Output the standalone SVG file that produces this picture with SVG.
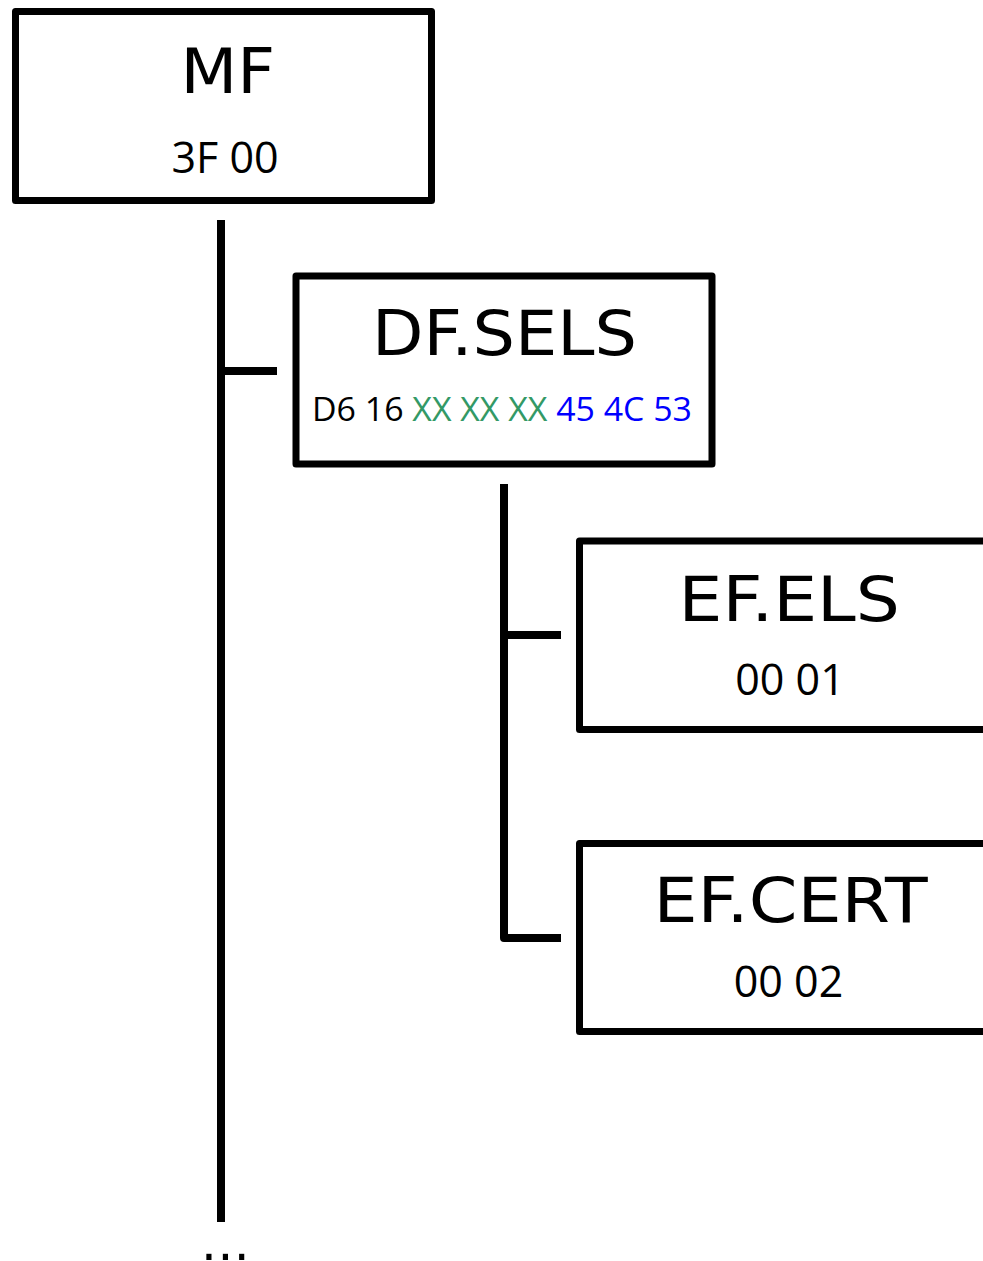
<svg xmlns="http://www.w3.org/2000/svg" width="983" height="1261" viewBox="0 0 983 1261">
  <style>
    .box { fill: #ffffff; stroke: #000000; stroke-width: 7; stroke-linejoin: round; }
    .wire { fill: none; stroke: #000000; stroke-width: 8; stroke-linejoin: round; }
    .title { font-family: "DejaVu Sans", sans-serif; font-size: 63px; fill: #000000; }
    .fid { font-family: "Open Sans", "Noto Sans", sans-serif; font-size: 43px; fill: #000000; text-anchor: middle; }
    .aid { font-family: "Open Sans", "Noto Sans", sans-serif; font-size: 32px; fill: #000000; text-anchor: middle; }
    .var { fill: #339966; }
    .name { fill: #0000ff; }
    .more { font-family: "DejaVu Sans", sans-serif; font-size: 50px; fill: #000000; letter-spacing: 0.5px; }
  </style>

  <!-- tree connectors -->
  <g id="connectors">
    <path class="wire" d="M221,220 V1222"/>
    <path class="wire" d="M221,371 H277"/>
    <path class="wire" d="M504,484 V938 H561"/>
    <path class="wire" d="M504,635 H561"/>
  </g>

  <!-- master file -->
  <g id="mf">
    <rect class="box" x="15.5" y="11.5" width="416" height="189"/>
    <text class="title" x="180.5" y="93" textLength="94.6" lengthAdjust="spacingAndGlyphs">MF</text>
    <text class="fid" x="225" y="173">3F 00</text>
  </g>

  <!-- dedicated file -->
  <g id="df-sels">
    <rect class="box" x="296" y="276" width="416" height="188"/>
    <text class="title" x="372" y="355" textLength="265" lengthAdjust="spacingAndGlyphs">DF.SELS</text>
    <text class="aid" x="502" y="421" textLength="380" lengthAdjust="spacingAndGlyphs">D6 16 <tspan class="var">XX XX XX</tspan> <tspan class="name">45 4C 53</tspan></text>
  </g>

  <!-- elementary files -->
  <g id="ef-els">
    <rect class="box" x="579.5" y="541" width="416" height="188.5"/>
    <text class="title" x="678.5" y="620.5" textLength="221.4" lengthAdjust="spacingAndGlyphs">EF.ELS</text>
    <text class="fid" x="790" y="695">00 01</text>
  </g>

  <g id="ef-cert">
    <rect class="box" x="579.5" y="843.5" width="416" height="188"/>
    <text class="title" x="653.5" y="921.5" textLength="274" lengthAdjust="spacingAndGlyphs">EF.CERT</text>
    <text class="fid" x="788.5" y="997">00 02</text>
  </g>

  <!-- further entries -->
  <g id="more">
    <text class="more" x="201" y="1260">...</text>
  </g>
</svg>
